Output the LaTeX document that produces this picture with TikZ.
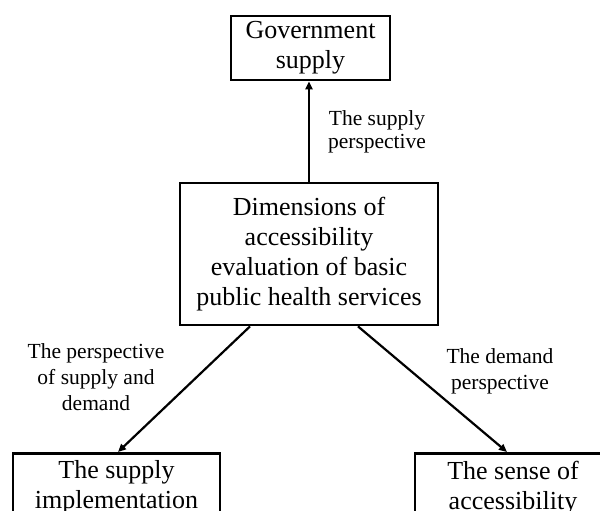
\documentclass[tikz,border=0pt]{standalone}
\usepackage{fontspec}
\setmainfont{Liberation Serif}
\usetikzlibrary{arrows.meta}

\begin{document}
\begin{tikzpicture}[x=1pt,y=1pt,
  box/.style={draw,line width=2.8pt,align=center,font=\fontsize{26}{30}\selectfont},
  lab/.style={align=center,font=\fontsize{21.5}{26}\selectfont},
  link/.style={-{Triangle[length=8pt,width=7pt]},line width=2.2pt}]

\clip (0,0) rectangle (600,511);

\node[box,minimum width=159,minimum height=64] (gov) at (310.5,463) {Government\\supply};
\node[box,minimum width=258,minimum height=142] (dim) at (309,257)
  {Dimensions of\\accessibility\\evaluation of basic\\public health services};

% the two lower boxes run on past the bottom edge
\node[box,anchor=north,minimum width=207,inner ysep=7.5pt] (impl) at (116.5,59) {The supply\\implementation};
\node[box,anchor=north,minimum width=196,inner ysep=7.5pt] (sense) at (513,59) {The sense of\\accessibility};

\draw[link] (dim.north) -- (dim.north |- gov.south);
\draw[link] ([xshift=-59pt]dim.south) -- ([xshift=1.5pt]impl.north);
\draw[link] ([xshift=49pt]dim.south) -- ([xshift=-6pt]sense.north);

\node[lab,font=\fontsize{21.5}{23}\selectfont] (supplyp) at (377,379) {The supply\\perspective};
\node[lab] (bothp) at (96,134) {The perspective\\of supply and\\demand};
\node[lab] (demandp) at (500,139.5) {The demand\\perspective};

\end{tikzpicture}
\end{document}
